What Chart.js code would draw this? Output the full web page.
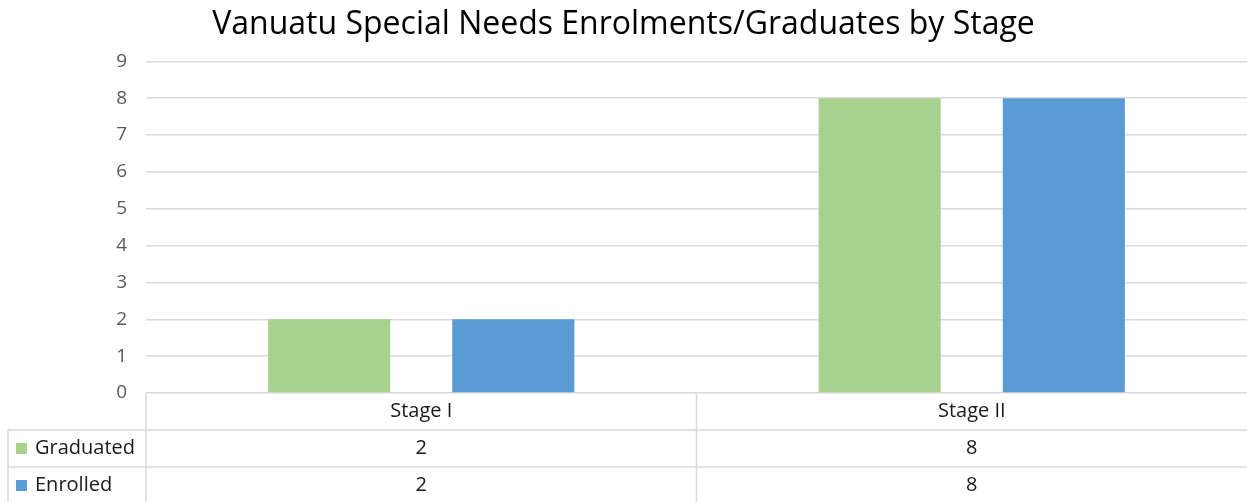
<!DOCTYPE html>
<html>
<head>
<meta charset="utf-8">
<script src="https://cdn.jsdelivr.net/npm/chart.js@4/dist/chart.umd.min.js"></script>
<style>
  html, body { margin: 0; padding: 0; background: #fff; }
  #wrap { width: 1247px; height: 502px; }
</style>
</head>
<body>
<div id="wrap"><canvas id="myChart" width="1247" height="502"></canvas></div>
<script>
const stages = ['Stage I', 'Stage II'];
const graduated = [2, 8];
const enrolled = [2, 8];
const yTicks = [0, 1, 2, 3, 4, 5, 6, 7, 8, 9];

const GREEN = '#A9D18E';
const BLUE = '#5B9BD5';
const FONT = "'Open Sans', sans-serif";

// data table under the plot, positioned from the x scale
const dataTable = {
  id: 'dataTable',
  afterDraw(chart) {
    const ctx = chart.ctx;
    const x = chart.scales.x;
    const area = chart.chartArea;
    const top = area.bottom;
    const rowH = 37;
    const left = 8;
    const colL = area.left;
    const right = chart.width;
    const bottom = chart.height;
    ctx.save();
    ctx.strokeStyle = '#D9D9D9';
    ctx.lineWidth = 1.5;
    ctx.beginPath();
    // horizontal lines
    ctx.moveTo(left, top + rowH); ctx.lineTo(right, top + rowH);
    ctx.moveTo(left, top + rowH * 2); ctx.lineTo(right, top + rowH * 2);
    // vertical lines
    ctx.moveTo(left, top + rowH); ctx.lineTo(left, bottom);
    ctx.moveTo(colL, top); ctx.lineTo(colL, bottom);
    for (let i = 1; i < stages.length; i++) {
      const xb = (x.getPixelForValue(i - 1) + x.getPixelForValue(i)) / 2;
      ctx.moveTo(xb, top); ctx.lineTo(xb, bottom);
    }
    ctx.stroke();

    ctx.font = '20px ' + FONT;
    ctx.fillStyle = '#1a1a1a';
    ctx.textAlign = 'center';
    ctx.textBaseline = 'middle';
    stages.forEach((s, i) => {
      const cx = x.getPixelForValue(i);
      ctx.fillText(s, cx, top + rowH / 2);
      ctx.fillText(String(graduated[i]), cx, top + rowH * 1.5);
      ctx.fillText(String(enrolled[i]), cx, top + rowH * 2.5);
    });

    const series = [['Graduated', GREEN], ['Enrolled', BLUE]];
    ctx.textAlign = 'left';
    series.forEach((s, j) => {
      const cy = top + rowH * (1.5 + j);
      ctx.fillStyle = s[1];
      ctx.fillRect(16, cy - 5.5, 11, 11);
      ctx.fillStyle = '#1a1a1a';
      ctx.fillText(s[0], 35, cy);
    });
    ctx.restore();
  }
};

const ctx = document.getElementById('myChart').getContext('2d');
const myChart = new Chart(ctx, {
  type: 'bar',
  data: {
    labels: stages,
    datasets: [
      { label: 'Graduated', data: graduated, backgroundColor: GREEN },
      { label: 'Enrolled', data: enrolled, backgroundColor: BLUE }
    ]
  },
  options: {
    responsive: false,
    animation: false,
    layout: { padding: { top: 0, left: 0, right: 0, bottom: 109 } },
    datasets: {
      bar: { categoryPercentage: 0.669, barPercentage: 0.663 }
    },
    scales: {
      x: { display: false },
      y: {
        min: 0,
        max: 9,
        afterFit(scale) { scale.width = 146; },
        afterBuildTicks(scale) { scale.ticks = yTicks.map(v => ({ value: v })); },
        border: { display: false },
        grid: { color: '#D9D9D9', lineWidth: 1.5, drawTicks: false },
        ticks: { padding: 19, color: '#595959', font: { family: FONT, size: 19 } }
      }
    },
    plugins: {
      legend: { display: false },
      tooltip: { enabled: false },
      title: {
        display: true,
        text: 'Vanuatu Special Needs Enrolments/Graduates by Stage',
        color: '#000',
        font: { family: FONT, size: 32, weight: 'normal' },
        padding: { top: 6, bottom: 17 }
      }
    }
  },
  plugins: [dataTable]
});
</script>
</body>
</html>
